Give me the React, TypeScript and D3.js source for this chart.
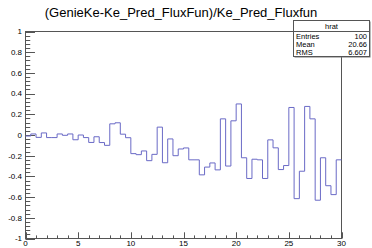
import React from 'react';
import * as d3 from 'd3';

// bin contents of hrat, 60 bins from 0 to 30
const ratio = [
  -0.01, 0.01, -0.023, 0.02, -0.025, -0.025, 0.01, -0.003, 0.01, -0.046,
  0.0, -0.025, -0.072, -0.017, -0.073, -0.1, 0.108, 0.118, 0.008, -0.026,
  -0.18, -0.19, -0.154, -0.248, -0.187, 0.076, -0.268, -0.038, -0.2, -0.135,
  -0.125, -0.24, -0.24, -0.385, -0.31, -0.27, -0.337, 0.156, -0.3, 0.137,
  0.3, -0.22, -0.42, -0.234, -0.24, -0.42, -0.047, -0.124, -0.334, -0.295,
  0.266, -0.615, -0.35, 0.276, 0.156, -0.63, -0.22, -0.49, -0.576, -0.24
];
const xRange = [0, 30];
const yRange = [-1, 1];
const xTickLabels = ['0', '5', '10', '15', '20', '25', '30'];
const yTickLabels = ['-1', '-0.8', '-0.6', '-0.4', '-0.2', '0', '0.2', '0.4', '0.6', '0.8', '1'];
const histTitle = '(GenieKe-Ke_Pred_FluxFun)/Ke_Pred_Fluxfun';
const statName = 'hrat';
const statLabels = ['Entries', 'Mean', 'RMS'];
const statValues = ['100', '20.66', '6.607'];

const W = 372;
const H = 248;
const left = 25.5;
const right = 341.5;
const top = 31.5;
const bottom = 238.5;
const font = '"Liberation Sans", Arial, Helvetica, sans-serif';
const axisColor = '#555';

export default function App() {
  const x = d3.scaleLinear().domain(xRange).range([left, right]);
  const y = d3.scaleLinear().domain(yRange).range([bottom, top]);

  const binW = (xRange[1] - xRange[0]) / ratio.length;
  const pts: [number, number][] = ratio.map((v, i) => [xRange[0] + i * binW, v]);
  pts.push([xRange[1], ratio[ratio.length - 1]]);
  const step = d3.line<[number, number]>()
    .x((d) => x(d[0]))
    .y((d) => y(d[1]))
    .curve(d3.curveStepAfter);

  // tick lengths like ROOT: 3% of the frame
  const xMajorLen = 0.03 * (bottom - top);
  const yMajorLen = 0.03 * (right - left);
  const xMinor = d3.range(xRange[0], xRange[1] + 0.001, 1);
  const yMinor = d3.range(0, 51).map((i) => yRange[0] + i * 0.04);

  const boxL = 293.5, boxR = 369.5, boxT = 20.5, boxB = 56.5, headB = 31.5;

  return (
    <div style={{ position: 'fixed', left: 0, top: 0 }}>
      <svg width={W} height={H} style={{ display: 'block', background: '#fff' }}>
        {/* frame */}
        <rect x={left} y={top} width={right - left} height={bottom - top}
          fill="none" stroke={axisColor} strokeWidth={1} />

        {/* y axis ticks */}
        {yMinor.map((v, i) => (
          <line key={'ym' + i} x1={left} x2={left + (i % 5 === 0 ? yMajorLen : yMajorLen / 2)}
            y1={Math.round(y(v)) + 0.5} y2={Math.round(y(v)) + 0.5} stroke={axisColor} strokeWidth={1} />
        ))}
        {yTickLabels.map((t) => (
          <text key={'yl' + t} x={22} y={y(parseFloat(t))} dy="0.35em" textAnchor="end"
            fontFamily={font} fontSize={8} fill="#000">{t}</text>
        ))}

        {/* x axis ticks */}
        {xMinor.map((v, i) => (
          <line key={'xm' + i} x1={Math.round(x(v)) + 0.5} x2={Math.round(x(v)) + 0.5}
            y1={bottom} y2={bottom - (i % 5 === 0 ? xMajorLen : xMajorLen / 2)}
            stroke={axisColor} strokeWidth={1} />
        ))}
        {xTickLabels.map((t) => (
          <text key={'xl' + t} x={x(parseFloat(t))} y={245.5} textAnchor="middle"
            fontFamily={font} fontSize={8} fill="#000">{t}</text>
        ))}

        {/* histogram */}
        <path d={step(pts) || ''} fill="none" stroke="#6a6ac6" strokeWidth={1} />

        {/* title */}
        <text x={181} y={17} textAnchor="middle" fontFamily={font} fontSize={13} fill="#000">
          {histTitle}
        </text>

        {/* stats box */}
        <rect x={boxL + 1} y={boxT + 1} width={boxR - boxL} height={boxB - boxT} fill="#777" />
        <rect x={boxL} y={boxT} width={boxR - boxL} height={boxB - boxT}
          fill="#fff" stroke={axisColor} strokeWidth={1} />
        <line x1={boxL} x2={boxR} y1={headB} y2={headB} stroke={axisColor} strokeWidth={1} />
        <text x={(boxL + boxR) / 2} y={29} textAnchor="middle" fontFamily={font} fontSize={7.5}>
          {statName}
        </text>
        {statLabels.map((s, i) => (
          <g key={s}>
            <text x={296} y={39 + i * 7.8} fontFamily={font} fontSize={7.5}>{s}</text>
            <text x={367} y={39 + i * 7.8} textAnchor="end" fontFamily={font} fontSize={7.5}>
              {statValues[i]}
            </text>
          </g>
        ))}
      </svg>
    </div>
  );
}
